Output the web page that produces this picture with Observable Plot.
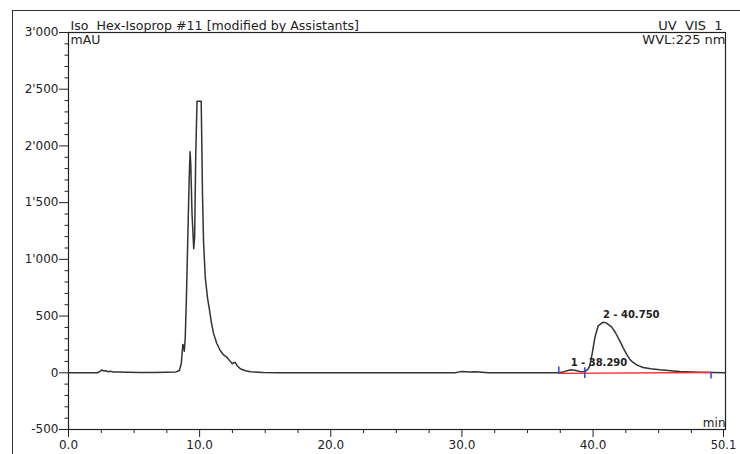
<!DOCTYPE html>
<html>
<head>
<meta charset="utf-8">
<script src="https://cdn.jsdelivr.net/npm/d3@7"></script>
<script src="https://cdn.jsdelivr.net/npm/@observablehq/plot@0.6"></script>
<style>
  html, body { margin: 0; padding: 0; background: #fff; }
  #wrap { position: relative; width: 740px; height: 454px; overflow: hidden; }
  #outer { position: absolute; left: 12px; top: 10px; right: -5px; bottom: -5px;
           border-left: 1.5px solid #333; border-top: 1.5px solid #333; }
  svg text { white-space: pre; }
</style>
</head>
<body>
<div id="wrap"><div id="outer"></div></div>
<script>
// Chromatogram trace (retention time in min, signal in mAU)
const times = [0, 2.2, 2.4, 2.55, 2.7, 2.85, 3.0, 3.2, 3.4, 3.8, 4.5, 5.5, 6.5, 7.5, 8.2, 8.45, 8.6, 8.72, 8.78, 8.83, 8.9, 9.0, 9.1, 9.2, 9.27, 9.32, 9.42, 9.55, 9.62, 9.7, 9.8, 10.12, 10.22, 10.3, 10.43, 10.6, 10.76, 10.9, 11.07, 11.3, 11.58, 11.8, 12.09, 12.3, 12.49, 12.6, 12.72, 12.85, 13.1, 13.5, 13.86, 14.85, 16, 20, 29.5, 29.8, 30.0, 30.3, 30.6, 31.0, 31.3, 32.0, 33, 37.4, 37.8, 38.3, 38.7, 39.1, 39.4, 39.6, 39.75, 39.95, 40.14, 40.39, 40.75, 41.0, 41.41, 41.7, 42.04, 42.3, 42.55, 42.8, 43.05, 43.4, 43.82, 44.4, 45.09, 46.6, 48.1, 50.1];
const signal = [0, 0, 12, 25, 15, 18, 10, 14, 8, 8, 5, 3, 2, 5, 8, 20, 80, 250, 240, 190, 300, 700, 1200, 1700, 1949, 1850, 1400, 1093, 1200, 1900, 2393, 2393, 1560, 1150, 840, 660, 547, 440, 343, 260, 194, 160, 135, 105, 79, 90, 91, 65, 35, 18, 9, 3, 1, 0, 0, 8, 12, 9, 6, 10, 8, 1, 0, 0, 10, 27, 20, 8, 12, 30, 60, 180, 311, 414, 445, 440, 405, 355, 282, 220, 165, 120, 91, 65, 47, 35, 26, 12, 5, 0];

// Integrated peaks
const peakLabels = ["1 - 38.290", "2 - 40.750"];
const peakTimes = [38.29, 40.75];
const peakHeights = [27, 445];

// Integration baseline and delimiters
const baseTimes = [37.39, 49.0];
const baseValues = [-5, 2];
const delimTimes = [37.39, 39.37, 49.0];
const delimLow = [-10, -50, -55];
const delimHigh = [50, 45, 5];

// Axes
const xMajor = [0, 10, 20, 30, 40];
const xEnd = [50.1];
const xMinor = [2.5, 5, 7.5, 12.5, 15, 17.5, 22.5, 25, 27.5, 32.5, 35, 37.5, 42.5, 45, 47.5];
const yMajor = [-500, 0, 500, 1000, 1500, 2000, 2500, 3000];
const yMinor = d3.range(-400, 3000, 100).filter(v => v % 500 !== 0);

const titleText = "Iso  Hex-Isoprop #11 [modified by Assistants]";
const channelText = "UV  VIS  1";
const yUnit = "mAU";
const wvlText = "WVL:225 nm";
const xUnit = "min";

const trace = times.map((t, i) => ({t, v: signal[i]}));
const peaks = peakTimes.map((t, i) => ({t, v: peakHeights[i], label: peakLabels[i]}));
const base = baseTimes.map((t, i) => ({t, v: baseValues[i]}));
const delims = delimTimes.map((t, i) => ({t, lo: delimLow[i], hi: delimHigh[i]}));

const fmtY = d3.formatLocale({decimal: ".", thousands: "'", grouping: [3], currency: ["", ""], minus: "-"}).format(",");

const chart = Plot.plot({
  width: 740,
  height: 454,
  marginLeft: 68,
  marginRight: 15,
  marginTop: 32,
  marginBottom: 25,
  x: {domain: [0, 50.1], label: null},
  y: {domain: [-500, 3000], label: null},
  style: {fontFamily: "DejaVu Sans", fontSize: "12px", color: "#222", background: "transparent", overflow: "visible"},
  marks: [
    Plot.axisX(xMinor, {tickSize: 4, tickFormat: () => "", stroke: "#222", label: null}),
    Plot.axisX(xMajor, {tickSize: 8, tickPadding: 3, tickFormat: d => d.toFixed(1), stroke: "#222", fontSize: 12, label: null}),
    Plot.axisX(xEnd, {tickSize: 8, tickPadding: 3, tickFormat: d => d.toFixed(1), stroke: "#222", fontSize: 11.5, dx: -2, label: null}),
    Plot.axisY(yMinor, {tickSize: 3.5, tickFormat: () => "", stroke: "#222", label: null}),
    Plot.axisY(yMajor, {tickSize: 9, tickPadding: 1, tickFormat: fmtY, stroke: "#222", fontSize: 12, label: null}),
    Plot.frame({stroke: "#222", strokeWidth: 1.2}),
    Plot.line(trace, {x: "t", y: "v", stroke: "#333", strokeWidth: 1.5}),
    Plot.line(base, {x: "t", y: "v", stroke: "#ff2a2a", strokeWidth: 1.4}),
    Plot.ruleX(delims, {x: "t", y1: "lo", y2: "hi", stroke: "#2848e8", strokeWidth: 1.5}),
    Plot.text(peaks, {x: "t", y: "v", text: "label", textAnchor: "start", dx: 0, dy: -4, lineAnchor: "bottom",
      fontFamily: "DejaVu Sans", fontWeight: "bold", fontSize: 10, fill: "#222"}),
    Plot.text([titleText], {text: d => d, frameAnchor: "top-left", textAnchor: "start", lineAnchor: "bottom", dx: 2, dy: -3, fontSize: 12.6}),
    Plot.text([yUnit], {text: d => d, frameAnchor: "top-left", textAnchor: "start", lineAnchor: "top", dx: 2, dy: 3, fontSize: 12.5}),
    Plot.text([channelText], {text: d => d, frameAnchor: "top-right", textAnchor: "end", lineAnchor: "bottom", dx: -3, dy: -3, fontSize: 13}),
    Plot.text([wvlText], {text: d => d, frameAnchor: "top-right", textAnchor: "end", lineAnchor: "top", dx: 0, dy: 2, fontSize: 13}),
    Plot.text([xUnit], {text: d => d, frameAnchor: "bottom-right", textAnchor: "end", lineAnchor: "bottom", dx: 0, dy: -3, fontSize: 12})
  ]
});
chart.style.position = "absolute";
chart.style.left = "0px";
chart.style.top = "0px";
document.getElementById("wrap").appendChild(chart);
</script>
</body>
</html>
